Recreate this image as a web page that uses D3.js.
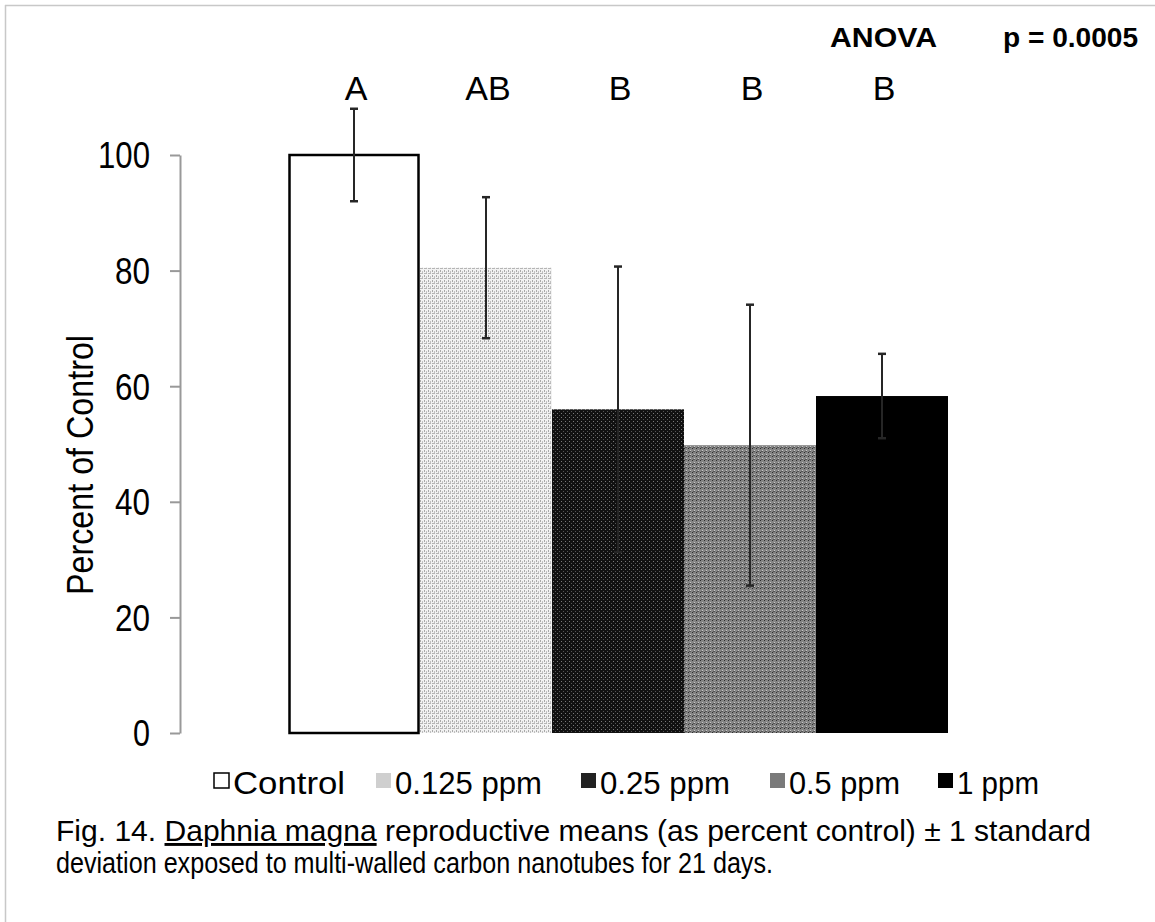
<!DOCTYPE html>
<html><head><meta charset="utf-8">
<script src="https://cdn.jsdelivr.net/npm/d3@7"></script>
<style>body{margin:0;background:#fff}svg{display:block}text{font-family:"Liberation Sans",Arial,sans-serif}</style>
</head><body>
<script>
const categories = ["Control","0.125 ppm","0.25 ppm","0.5 ppm","1 ppm"];
const means = [100, 80.5, 56, 49.8, 58.3];
const sds = [8, 12.2, 24.7, 24.3, 7.3];
const letters = ["A","AB","B","B","B"];
const yTicks = [0,20,40,60,80,100];

const W=1155,H=922;
const svg=d3.select("body").append("svg").attr("width",W).attr("height",H);
svg.append("rect").attr("width",W).attr("height",H).attr("fill","#fff");
svg.append("line").attr("x1",5).attr("x2",W).attr("y1",5.5).attr("y2",5.5).attr("stroke","#c8c8c8").attr("stroke-width",1.5);
svg.append("line").attr("x1",5.5).attr("x2",5.5).attr("y1",5).attr("y2",H).attr("stroke","#c8c8c8").attr("stroke-width",1.5);

const defs=svg.append("defs");
function pat(id,bg,dots,size){
  const p=defs.append("pattern").attr("id",id).attr("patternUnits","userSpaceOnUse").attr("width",size[0]).attr("height",size[1]);
  p.append("rect").attr("width",size[0]).attr("height",size[1]).attr("fill",bg);
  dots.forEach(d=>p.append("rect").attr("x",d[0]).attr("y",d[1]).attr("width",d[2]).attr("height",d[3]).attr("fill",d[4]));
}
pat("p125","#f2f2f2",[[0,0,1,2,"#a8a8a8"],[2,1,1,2,"#c0c0c0"],[0,3,3,1,"#b5b5b5"]],[4,5]);
pat("p25","#111",[[1,1,1,1,"#7a7a7a"],[3,3,1,1,"#555"]],[4,4]);
pat("p05","#858585",[[0,0,1,1,"#2e2e2e"],[2,2,1,1,"#c8c8c8"],[1,3,2,1,"#555"]],[4,4]);
const fills=["#fff","url(#p125)","url(#p25)","url(#p05)","#000"];
const swatch=["#fff","#cfcfcf","#222","#7a7a7a","#000"];

const y=d3.scaleLinear().domain([0,100]).range([733,155]);
const x=d3.scaleBand().domain(categories).range([288,948]).paddingInner(0);

const ax=svg.append("g").attr("transform","translate(180,0)")
  .call(d3.axisLeft(y).tickValues(yTicks).tickSize(10).tickPadding(20).tickSizeOuter(0));
ax.select(".domain").attr("stroke","#999").attr("stroke-width",2);
ax.selectAll(".tick line").attr("stroke","#999").attr("stroke-width",2);
ax.selectAll(".tick text").attr("font-size",36).attr("fill","#000").attr("dy","0.36em")
  .attr("font-family","Liberation Sans, Arial, sans-serif")
  .attr("textLength",d=>d===100?52:(d===0?17:35)).attr("lengthAdjust","spacingAndGlyphs");

svg.append("text").attr("transform","translate(93,465) rotate(-90)").attr("text-anchor","middle")
  .attr("font-size",36).attr("textLength",260).attr("lengthAdjust","spacingAndGlyphs").text("Percent of Control");

svg.selectAll(".bar").data(categories).join("rect")
  .attr("x",d=>x(d)).attr("width",x.bandwidth())
  .attr("y",(d,i)=>y(means[i])).attr("height",(d,i)=>y(0)-y(means[i]))
  .attr("fill",(d,i)=>fills[i]);
svg.append("rect").attr("x",x(categories[0])+1.5).attr("y",y(means[0])).attr("width",x.bandwidth()-3)
  .attr("height",y(0)-y(means[0])).attr("fill","none").attr("stroke","#000").attr("stroke-width",2.5);

const eb=svg.append("g").attr("stroke","#262626").attr("stroke-width",2);
categories.forEach((c,i)=>{
  const cx=x(c)+x.bandwidth()/2;
  eb.append("line").attr("x1",cx).attr("x2",cx).attr("y1",y(means[i]+sds[i])).attr("y2",y(means[i]-sds[i]));
  [means[i]+sds[i],means[i]-sds[i]].forEach(v=>eb.append("line").attr("x1",cx-4).attr("x2",cx+4).attr("y1",y(v)).attr("y2",y(v)).attr("stroke-width",2.5));
});

svg.selectAll(".let").data(letters).join("text")
  .attr("x",(d,i)=>x(categories[i])+x.bandwidth()/2+2).attr("y",100).attr("text-anchor","middle")
  .attr("font-size",34).text(d=>d);

svg.append("text").attr("x",830).attr("y",47).attr("font-size",28).attr("font-weight","bold")
  .attr("textLength",107).attr("lengthAdjust","spacingAndGlyphs").text("ANOVA");
svg.append("text").attr("x",1003).attr("y",47).attr("font-size",28).attr("font-weight","bold")
  .attr("textLength",135).attr("lengthAdjust","spacingAndGlyphs").text("p = 0.0005");

const legX=[213,375,580,769,937];
const legW=[112,147,130,111,82];
const lg=svg.append("g");
categories.forEach((c,i)=>{
  lg.append("rect").attr("x",legX[i]+1).attr("y",773).attr("width",15).attr("height",15)
    .attr("fill",swatch[i]).attr("stroke",i===0?"#000":"none").attr("stroke-width",1.5);
  lg.append("text").attr("x",legX[i]+20).attr("y",794).attr("font-size",32).text(c)
    .attr("textLength",legW[i]).attr("lengthAdjust","spacingAndGlyphs");
});

const cap=svg.append("text").attr("x",56).attr("y",841).attr("font-size",29);
cap.append("tspan").text("Fig. 14. ");
cap.append("tspan").attr("text-decoration","underline").text("Daphnia magna");
cap.append("tspan").text(" reproductive means (as percent control) \u00b1 1 standard");
cap.attr("textLength",1035).attr("lengthAdjust","spacingAndGlyphs");
svg.append("text").attr("x",56).attr("y",873).attr("font-size",29)
  .attr("textLength",717).attr("lengthAdjust","spacingAndGlyphs")
  .text("deviation exposed to multi-walled carbon nanotubes for 21 days.");
</script>
</body></html>
